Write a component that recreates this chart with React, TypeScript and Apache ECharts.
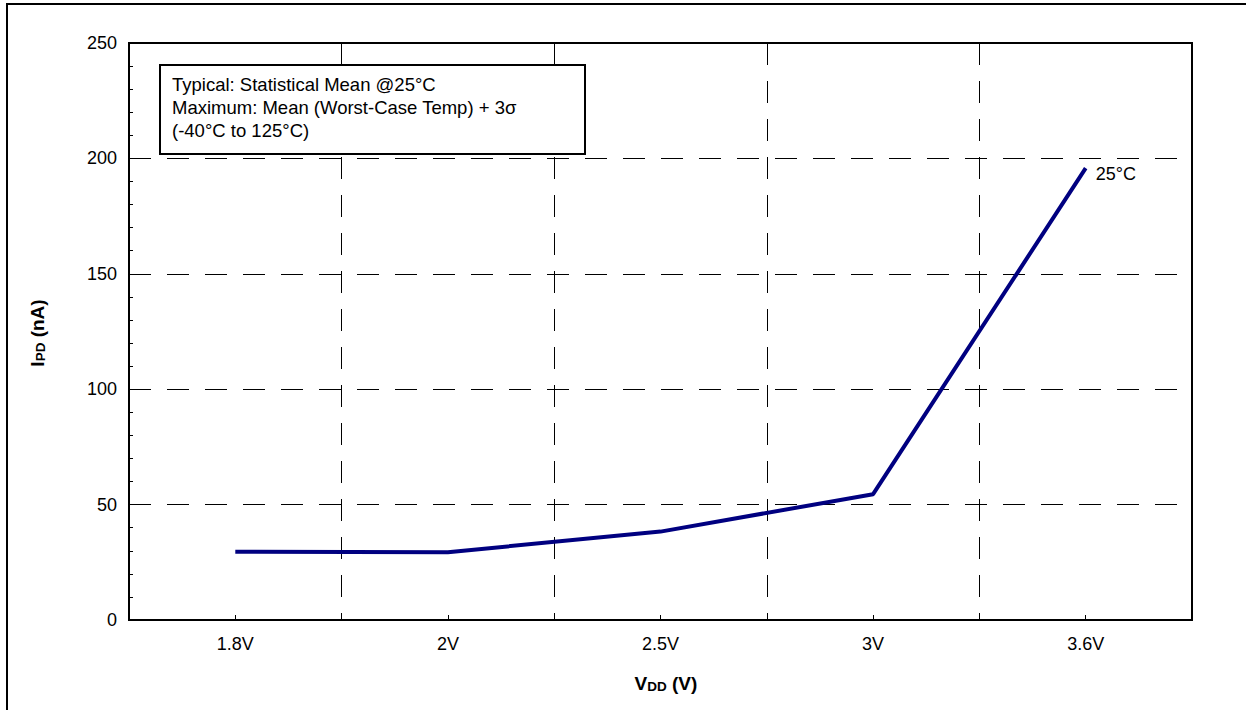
import React, { useEffect, useRef } from 'react';
import * as echarts from 'echarts';

const categories = ['1.8V', '2V', '2.5V', '3V', '3.6V'];
const ipd25C = [29.6, 29.4, 38.3, 54.5, 195.8];
const yMin = 0;
const yMax = 250;
const yInterval = 50;
const seriesLabel = '25°C';
const legendLines = [
  'Typical: Statistical Mean @25°C',
  'Maximum: Mean (Worst-Case Temp) + 3σ',
  '(-40°C to 125°C)',
];

const FONT = "'Liberation Sans', Arial, sans-serif";

export default function App() {
  const ref = useRef<HTMLDivElement>(null);

  useEffect(() => {
    document.body.style.margin = '0';
    if (!ref.current) return;
    const chart = echarts.init(ref.current, null, { renderer: 'svg' });
    const dash = [22, 16];
    const option: any = {
      animation: false,
      backgroundColor: '#fff',
      textStyle: { fontFamily: FONT },
      grid: {
        left: 129,
        top: 43,
        width: 1063,
        height: 577,
        show: true,
        borderColor: '#000',
        borderWidth: 2,
        backgroundColor: 'transparent',
      },
      xAxis: {
        type: 'category',
        data: categories,
        boundaryGap: true,
        axisLine: { show: true, lineStyle: { color: '#000', width: 2 } },
        axisTick: { show: true, alignWithLabel: true, inside: true, length: 5, lineStyle: { color: '#000', width: 1 } },
        axisLabel: { color: '#000', fontSize: 18, fontFamily: FONT, margin: 15 },
        splitLine: { show: true, lineStyle: { color: '#000', width: 1, type: dash } },
      },
      yAxis: {
        type: 'value',
        min: yMin,
        max: yMax,
        interval: yInterval,
        axisLine: { show: true, lineStyle: { color: '#000', width: 2 } },
        axisTick: { show: true, inside: true, length: 8, lineStyle: { color: '#000', width: 1 } },
        minorTick: { show: true, splitNumber: 5, length: 4, lineStyle: { color: '#000', width: 1 } },
        axisLabel: { color: '#000', fontSize: 18, fontFamily: FONT, margin: 12 },
        splitLine: { show: true, lineStyle: { color: '#000', width: 1, type: dash } },
      },
      series: [
        {
          type: 'line',
          data: ipd25C,
          symbol: 'none',
          lineStyle: { color: '#000080', width: 4 },
          itemStyle: { color: '#000080' },
          endLabel: {
            show: true,
            formatter: seriesLabel,
            color: '#000',
            fontSize: 18,
            fontFamily: FONT,
            distance: 10,
            offset: [0, 6],
          },
        },
      ],
      graphic: [
        {
          type: 'rect',
          silent: true,
          shape: { x: 7, y: 4, width: 1400, height: 900 },
          style: { fill: 'none', stroke: '#000', lineWidth: 2 },
          z: 10,
        },
        {
          type: 'rect',
          shape: { x: 160, y: 65, width: 425, height: 89 },
          style: { fill: '#fff', stroke: '#000', lineWidth: 2 },
          z: 10,
        },
        ...legendLines.map((t, i) => ({
          type: 'text',
          x: 172,
          y: 84 + i * 23,
          z: 11,
          style: { text: t, fill: '#000', font: `18.5px ${FONT}`, align: 'left', verticalAlign: 'middle' },
        })),
        {
          type: 'text',
          x: 37,
          y: 333,
          rotation: Math.PI / 2,
          z: 11,
          style: {
            text: '{a|I}{b|PD}{a| (nA)}',
            align: 'center',
            verticalAlign: 'middle',
            rich: {
              a: { fontSize: 19, fontWeight: 'bold', fontFamily: FONT, fill: '#000', lineHeight: 20, verticalAlign: 'bottom' },
              b: { fontSize: 13.5, fontWeight: 'bold', fontFamily: FONT, fill: '#000', lineHeight: 20, verticalAlign: 'bottom' },
            },
          },
        },
        {
          type: 'text',
          x: 666,
          y: 683,
          z: 11,
          style: {
            text: '{a|V}{b|DD}{a| (V)}',
            align: 'center',
            verticalAlign: 'middle',
            rich: {
              a: { fontSize: 19, fontWeight: 'bold', fontFamily: FONT, fill: '#000', lineHeight: 20, verticalAlign: 'bottom' },
              b: { fontSize: 13.5, fontWeight: 'bold', fontFamily: FONT, fill: '#000', lineHeight: 20, verticalAlign: 'bottom' },
            },
          },
        },
      ],
    };
    chart.setOption(option);
    return () => chart.dispose();
  }, []);

  return <div ref={ref} style={{ width: 1246, height: 710 }} />;
}
